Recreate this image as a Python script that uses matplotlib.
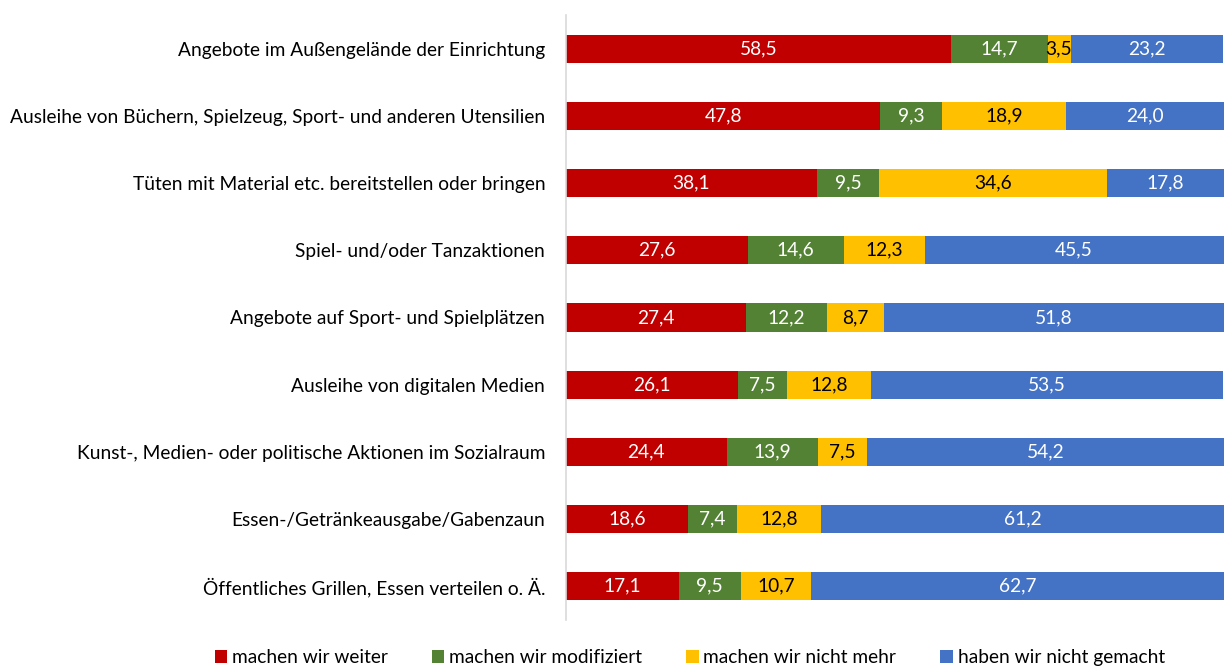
import matplotlib
matplotlib.use("Agg")
import matplotlib.pyplot as plt
from matplotlib.patches import Patch

plt.rcParams['font.family'] = ['Lato', 'DejaVu Sans']

categories = [
    "Angebote im Außengelände der Einrichtung",
    "Ausleihe von Büchern, Spielzeug, Sport- und anderen Utensilien",
    "Tüten mit Material etc. bereitstellen oder bringen",
    "Spiel- und/oder Tanzaktionen",
    "Angebote auf Sport- und Spielplätzen",
    "Ausleihe von digitalen Medien",
    "Kunst-, Medien- oder politische Aktionen im Sozialraum",
    "Essen-/Getränkeausgabe/Gabenzaun",
    "Öffentliches Grillen, Essen verteilen o. Ä.",
]
series_names = ["machen wir weiter", "machen wir modifiziert", "machen wir nicht mehr", "haben wir nicht gemacht"]
weiter = [58.5, 47.8, 38.1, 27.6, 27.4, 26.1, 24.4, 18.6, 17.1]
modifiziert = [14.7, 9.3, 9.5, 14.6, 12.2, 7.5, 13.9, 7.4, 9.5]
nicht_mehr = [3.5, 18.9, 34.6, 12.3, 8.7, 12.8, 7.5, 12.8, 10.7]
nicht_gemacht = [23.2, 24.0, 17.8, 45.5, 51.8, 53.5, 54.2, 61.2, 62.7]

colors = ["#C00000", "#548235", "#FFC000", "#4472C4"]
text_colors = ["white", "white", "black", "white"]

fs = 13.8

fig = plt.figure(figsize=(12.26, 6.68), dpi=100)
ax = fig.add_axes([0.4617, 0.072, 0.5365, 0.9055])

y = list(range(len(categories)))
left = [0.0] * len(categories)
for vals, col, tcol, name in zip([weiter, modifiziert, nicht_mehr, nicht_gemacht], colors, text_colors, series_names):
    bars = ax.barh(y, vals, left=left, height=0.42, color=col, label=name)
    for b, v in zip(bars, vals):
        ax.text(b.get_x() + b.get_width() / 2, b.get_y() + b.get_height() / 2,
                f"{v:.1f}".replace(".", ","), ha="center", va="center",
                color=tcol, fontsize=fs)
    left = [l + v for l, v in zip(left, vals)]

ax.set_ylim(len(categories) - 0.5, -0.5)
ax.set_xlim(0, 100)
ax.set_yticks(y)
ax.set_yticklabels(categories, fontsize=fs)
ax.tick_params(axis='y', length=0, pad=15)
ax.set_xticks([])
for s in ["top", "right", "bottom"]:
    ax.spines[s].set_visible(False)
ax.spines["left"].set_color("#D9D9D9")
ax.spines["left"].set_linewidth(1.2)

handles = [Patch(facecolor=c, label=n) for c, n in zip(colors, series_names)]
fig.legend(handles=handles, loc="center", bbox_to_anchor=(0.5625, 0.015), ncol=4,
           frameon=False, fontsize=fs, handlelength=0.65, handleheight=0.65,
           handletextpad=0.25, columnspacing=2.3)

fig.savefig("out.png", dpi=100)
